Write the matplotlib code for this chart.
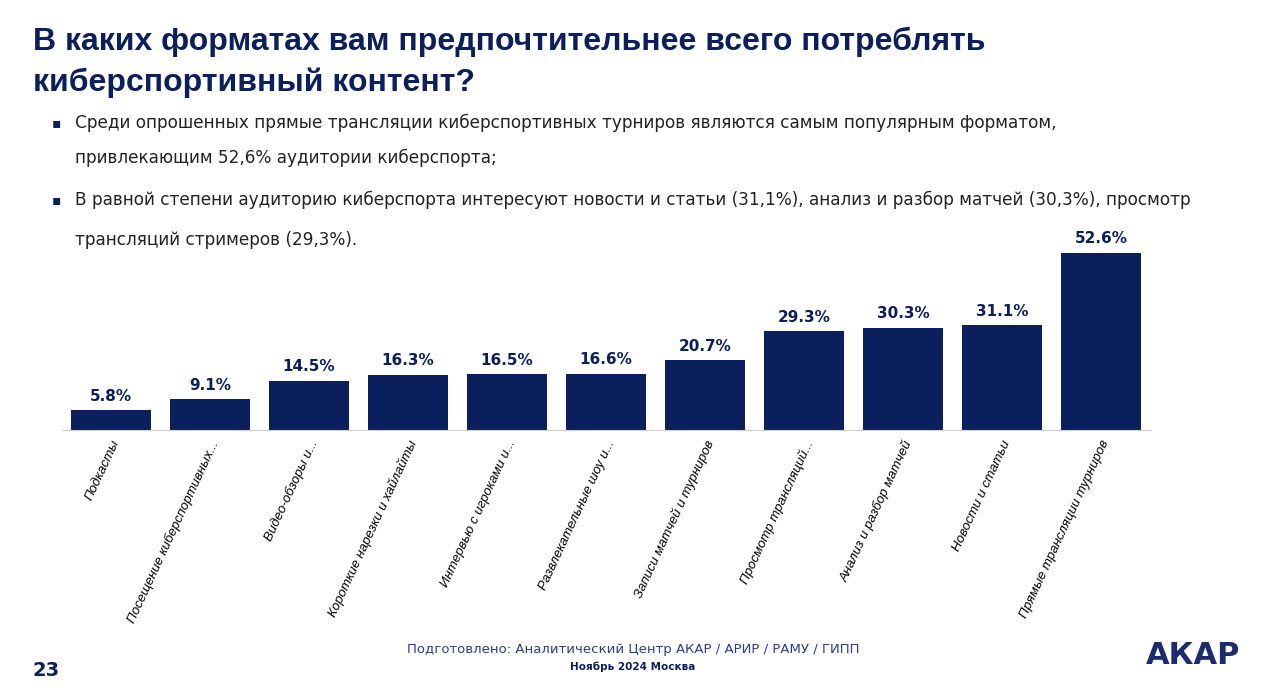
import matplotlib.pyplot as plt

categories = ['Подкасты', 'Посещение киберспортивных...', 'Видео-обзоры и...',
              'Короткие нарезки и хайлайты', 'Интервью с игроками и...',
              'Развлекательные шоу и...', 'Записи матчей и турниров',
              'Просмотр трансляций...', 'Анализ и разбор матчей',
              'Новости и статьи', 'Прямые трансляции турниров']
values = [5.8, 9.1, 14.5, 16.3, 16.5, 16.6, 20.7, 29.3, 30.3, 31.1, 52.6]

NAVY = '#0a1f5c'
W, H = 1261, 697
fig = plt.figure(figsize=(W / 100, H / 100), dpi=100)
fig.patch.set_facecolor('white')

# chart area
ax = fig.add_axes([61.5 / W, 1 - 430 / H, 1089 / W, 202 / H])
x = range(len(values))
ax.bar(x, values, width=0.8, color=NAVY)
for i, v in zip(x, values):
    ax.text(i, v + 2.0, f'{v:.1f}%', ha='center', va='bottom',
            fontsize=11, fontweight='bold', color=NAVY)
ax.set_xlim(-0.5, len(values) - 0.5)
ax.set_ylim(0, 60)
ax.set_yticks([])
ax.set_xticks(list(x))
ax.set_xticklabels(categories, rotation=65, ha='right', rotation_mode='anchor',
                   fontsize=9.5, fontstyle='italic', family='Liberation Sans')
ax.tick_params(axis='x', length=0, pad=6)
for s in ['top', 'right', 'left']:
    ax.spines[s].set_visible(False)
ax.spines['bottom'].set_color('#d0d0d0')
ax.set_facecolor('none')

# title and bullets
title_font = 'Liberation Sans'
fig.text(33 / W, 1 - 42 / H, 'В каких форматах вам предпочтительнее всего потреблять',
         fontsize=23, fontweight='bold', color=NAVY, va='center', family=title_font)
fig.text(33 / W, 1 - 83 / H, 'киберспортивный контент?',
         fontsize=23, fontweight='bold', color=NAVY, va='center', family=title_font)
bullets = [
    (123, '▪', 'Среди опрошенных прямые трансляции киберспортивных турниров являются самым популярным форматом,'),
    (158, '', 'привлекающим 52,6% аудитории киберспорта;'),
    (200, '▪', 'В равной степени аудиторию киберспорта интересуют новости и статьи (31,1%), анализ и разбор матчей (30,3%), просмотр'),
    (240, '', 'трансляций стримеров (29,3%).'),
]
for y, mark, txt in bullets:
    if mark:
        fig.text(52 / W, 1 - y / H, mark, fontsize=10, color=NAVY, va='center')
    fig.text(75 / W, 1 - y / H, txt, fontsize=12.2, color='#222222', va='center')

# footer
fig.text(633 / W, 1 - 649 / H, 'Подготовлено: Аналитический Центр АКАР / АРИР / РАМУ / ГИПП',
         fontsize=9.5, color='#2a3f8f', ha='center', va='center')
fig.text(633 / W, 1 - 667 / H, 'Ноябрь 2024 Москва', fontsize=7.5, fontweight='bold',
         color=NAVY, ha='center', va='center')
fig.text(33 / W, 1 - 671 / H, '23', fontsize=14, fontweight='bold', color=NAVY, va='center')
fig.text(1240 / W, 1 - 656 / H, 'АКАР', fontsize=22, fontweight='bold', color='#1c2a6e',
         ha='right', va='center')

fig.savefig('out.png', dpi=100)
